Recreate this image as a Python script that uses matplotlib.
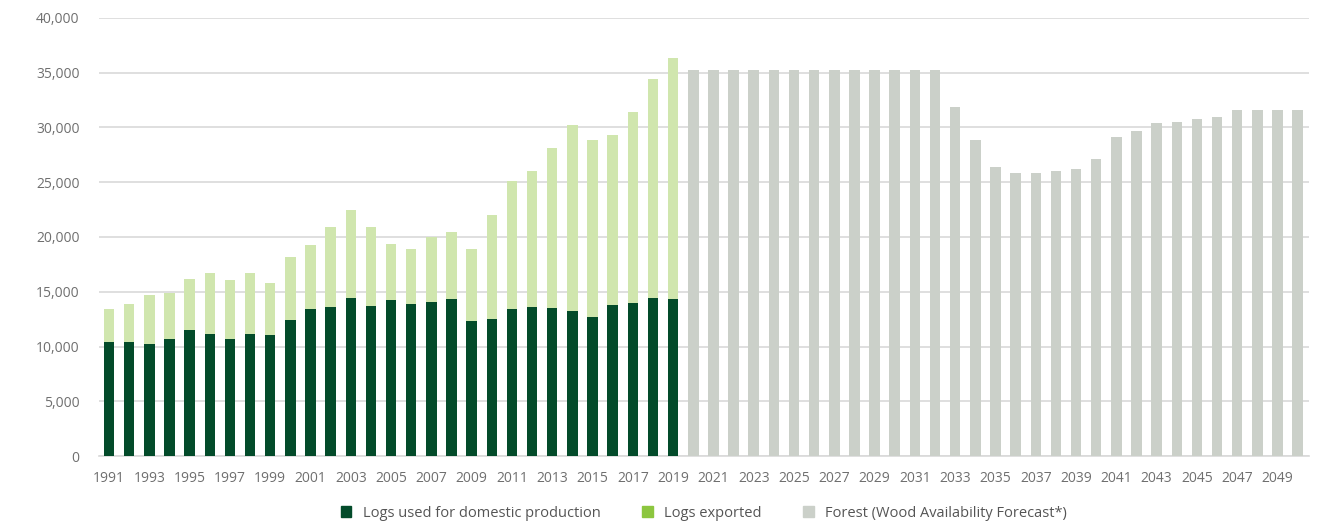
import matplotlib.pyplot as plt
from matplotlib.patches import Patch
from matplotlib.ticker import FuncFormatter

plt.rcParams['font.family'] = ['Open Sans', 'DejaVu Sans']

# harvest history 1991-2019
hist_years = list(range(1991, 2020))
domestic = [10400, 10380, 10200, 10650, 11480, 11140, 10650, 11140, 11050, 12420,
            13400, 13600, 14400, 13670, 14220, 13850, 14030, 14300, 12330, 12510,
            13450, 13570, 13510, 13210, 12720, 13820, 13970, 14460, 14370]
total = [13420, 13880, 14700, 14900, 16160, 16710, 16070, 16710, 15800, 18170,
         19270, 20910, 22460, 20910, 19330, 18900, 19970, 20480, 18930, 22010,
         25110, 26030, 28130, 30230, 28830, 29310, 31380, 34430, 36370]
exported = [t - d for t, d in zip(total, domestic)]

# wood availability forecast 2020-2050
fc_years = list(range(2020, 2051))
forecast = [35250] * 13 + [31870, 28830, 26420, 25840, 25840, 26000, 26210, 27150,
                           29100, 29680, 30410, 30500, 30770, 30980, 31570, 31630,
                           31630, 31630]

dark = '#034b2a'
light = '#d0e6ae'
grey = '#cbd0c9'

fig = plt.figure(figsize=(13.28, 5.26), dpi=100)
ax = fig.add_axes([0.0745, 0.133, 0.911, 0.833])

w = 0.52
ax.bar(hist_years, domestic, width=w, color=dark, zorder=3)
ax.bar(hist_years, exported, width=w, bottom=domestic, color=light, zorder=3)
ax.bar(fc_years, forecast, width=w, color=grey, zorder=3)

ax.set_ylim(0, 40000)
ax.set_yticks(range(0, 40001, 5000))
ax.yaxis.set_major_formatter(FuncFormatter(lambda v, p: f'{int(v):,}'))
ax.set_xlim(1990.5, 2050.55)
ax.set_xticks(range(1991, 2050, 2))
ax.grid(axis='y', color='#d9d9d9', linewidth=1.2, zorder=0)
for s in ['top', 'right', 'left']:
    ax.spines[s].set_visible(False)
ax.spines['bottom'].set_color('#d9d9d9')
ax.spines['bottom'].set_linewidth(1.2)
ax.tick_params(axis='both', length=0, labelsize=10, colors='#6f6f6f')
ax.tick_params(axis='y', pad=14)
ax.tick_params(axis='x', pad=11)

handles = [Patch(color=dark, label='Logs used for domestic production'),
           Patch(color='#8cc63f', label='Logs exported'),
           Patch(color=grey, label='Forest (Wood Availability Forecast*)')]
fig.legend(handles=handles, loc='lower center', bbox_to_anchor=(0.53, -0.015), ncol=3,
           frameon=False, fontsize=10.5, handlelength=0.75, handleheight=0.75,
           columnspacing=2.8, labelcolor='#555555')

fig.savefig('out.png', dpi=100)
